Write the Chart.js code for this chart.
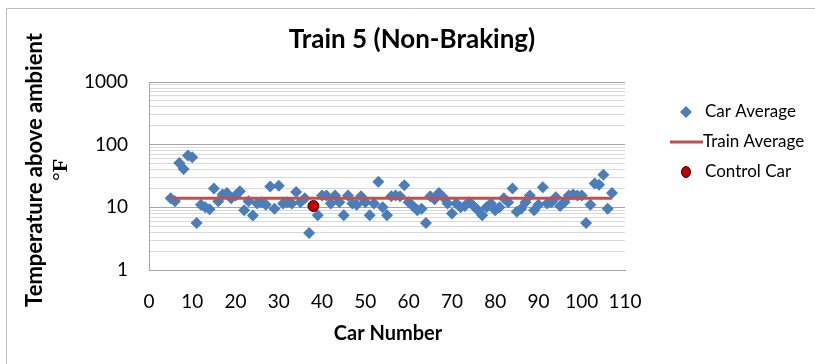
<!DOCTYPE html>
<html>
<head>
<meta charset="utf-8">
<script src="https://cdn.jsdelivr.net/npm/chart.js@4/dist/chart.umd.min.js"></script>
<style>
  html, body { margin: 0; padding: 0; background: #fff; }
  #wrap { width: 815px; height: 364px; position: relative; }
</style>
</head>
<body>
<div id="wrap"><canvas id="chart"></canvas></div>
<script>
// ── Data ──────────────────────────────────────────────────────────────────

const CAR_NUMBERS = [];
for (let n = 5; n <= 107; n++) CAR_NUMBERS.push(n);

// Car average temperature above ambient (°F), cars 5..107 (38 is the control car)
const CAR_AVERAGE = [
  14, 12.5, 51, 41, 67, 63, 5.6, 11, 10, 9.3,          // 5-14
  20, 12.5, 16, 17, 14, 15.5, 18, 9, 12.5, 7.4,        // 15-24
  11.5, 12, 11, 21.5, 9.5, 22, 11.5, 12, 11.5, 17.5,   // 25-34
  12, 14, 3.9, null, 7.5, 15.5, 15.5, 11.5, 15.5, 12,  // 35-44
  7.5, 15.5, 11.5, 11, 15, 12, 7.5, 11.5, 25.5, 10,    // 45-54
  7.5, 15, 15.5, 15, 22.5, 12, 10.5, 9, 9.5, 5.6,      // 55-64
  15, 13.5, 17, 14.5, 11.5, 8, 11.5, 10, 10.5, 12,     // 65-74
  10.5, 9, 7.5, 10, 11.5, 9, 10, 14, 12, 20,           // 75-84
  8.5, 9.5, 12, 15.5, 9, 11, 21, 11.5, 12, 14.5,       // 85-94
  10.5, 12, 15.5, 16, 15.5, 15.5, 5.6, 11, 24, 23,     // 95-104
  33, 9.5, 17                                          // 105-107
];

const TRAIN_AVERAGE = 14;
const CONTROL_CAR = 38;
const CONTROL_VALUE = 10.5;

const X_TICKS = [0, 10, 20, 30, 40, 50, 60, 70, 80, 90, 100, 110];
const Y_DECADES = [1, 10, 100, 1000];

// ── Colours / fonts ───────────────────────────────────────────────────────

const BLUE  = '#4a7ebb';
const RED   = '#c0504d';
const DARKRED = '#c00000';
const FONT  = 'Lato, "Open Sans", sans-serif';

const carPoints = CAR_NUMBERS
  .map((n, i) => ({ x: n, y: CAR_AVERAGE[i] }))
  .filter(p => p.y !== null);
const trainLine = [
  { x: CAR_NUMBERS[0], y: TRAIN_AVERAGE },
  { x: CAR_NUMBERS[CAR_NUMBERS.length - 1], y: TRAIN_AVERAGE },
];

// gridline values 1..9 per decade
const yGrid = [];
Y_DECADES.forEach(d => {
  for (let k = 1; k <= 9; k++) if (d * k <= 1000) yGrid.push(d * k);
});

// ── Decorations: title, y title, x title, legend, outer frame ────────────

const decorations = {
  id: 'decorations',
  afterDraw(chart) {
    const ctx = chart.ctx;
    ctx.save();

    // outer frame (left + top)
    ctx.strokeStyle = '#bfbfbf';
    ctx.lineWidth = 1;
    ctx.beginPath();
    ctx.moveTo(6.5, 364);
    ctx.lineTo(6.5, 8.5);
    ctx.lineTo(815, 8.5);
    ctx.stroke();

    ctx.fillStyle = '#000';
    ctx.textBaseline = 'middle';

    // main title
    ctx.textAlign = 'center';
    ctx.font = `bold 26px ${FONT}`;
    ctx.fillText('Train 5 (Non-Braking)', 412, 40);

    // x title
    ctx.font = `bold 20px ${FONT}`;
    ctx.fillText('Car Number', 388, 334);

    // y title (two lines, second in serif)
    ctx.save();
    ctx.translate(35, 170);
    ctx.rotate(-Math.PI / 2);
    ctx.font = `bold 22px ${FONT}`;
    ctx.fillText('Temperature above ambient', 0, 0);
    ctx.font = 'bold 22px "Liberation Serif", "DejaVu Serif", serif';
    ctx.fillText('°F', 0, 26);
    ctx.restore();

    // legend
    ctx.textAlign = 'left';
    ctx.font = `17px ${FONT}`;
    const lx = 686, tx = 705;
    const rows = [112, 142, 172];

    ctx.fillStyle = BLUE;
    ctx.beginPath();
    ctx.moveTo(lx - 6, rows[0]);
    ctx.lineTo(lx, rows[0] - 6);
    ctx.lineTo(lx + 6, rows[0]);
    ctx.lineTo(lx, rows[0] + 6);
    ctx.closePath();
    ctx.fill();

    ctx.strokeStyle = RED;
    ctx.lineWidth = 3;
    ctx.beginPath();
    ctx.moveTo(670, rows[1]);
    ctx.lineTo(703, rows[1]);
    ctx.stroke();

    ctx.fillStyle = DARKRED;
    ctx.strokeStyle = '#3a0000';
    ctx.lineWidth = 1;
    ctx.beginPath();
    ctx.ellipse(lx, rows[2], 4.5, 5.5, 0, 0, Math.PI * 2);
    ctx.fill();
    ctx.stroke();

    ctx.fillStyle = '#000';
    ctx.fillText('Car Average', tx, rows[0]);
    ctx.fillText('Train Average', tx - 2, rows[1]);
    ctx.fillText('Control Car', tx, rows[2]);

    ctx.restore();
  },
};

// ── Chart ─────────────────────────────────────────────────────────────────

new Chart(document.getElementById('chart'), {
  type: 'scatter',
  data: {
    datasets: [
      {
        label: 'Car Average',
        data: carPoints,
        pointStyle: 'rectRot',
        pointRadius: 6,
        pointBackgroundColor: BLUE,
        pointBorderWidth: 0,
        order: 3,
      },
      {
        label: 'Train Average',
        type: 'line',
        data: trainLine,
        borderColor: RED,
        borderWidth: 3,
        pointRadius: 0,
        showLine: true,
        order: 2,
      },
      {
        label: 'Control Car',
        data: [{ x: CONTROL_CAR, y: CONTROL_VALUE }],
        pointStyle: 'circle',
        pointRadius: 5.5,
        pointBackgroundColor: DARKRED,
        pointBorderColor: '#3a0000',
        pointBorderWidth: 1,
        order: 1,
      },
    ],
  },
  options: {
    responsive: true,
    maintainAspectRatio: false,
    animation: false,
    layout: { padding: { top: 82, right: 190, bottom: 0, left: 0 } },
    plugins: {
      legend: { display: false },
      title: { display: false },
      tooltip: { enabled: false },
    },
    scales: {
      x: {
        type: 'linear',
        min: 0,
        max: 110,
        afterFit: s => { s.height = 94; },
        afterBuildTicks: s => { s.ticks = X_TICKS.map(v => ({ value: v })); },
        ticks: {
          color: '#000',
          padding: 20,
          maxRotation: 0,
          font: { family: FONT, size: 19 },
        },
        grid: { display: false, drawTicks: false },
        border: { color: '#a6a6a6', width: 1 },
      },
      y: {
        type: 'logarithmic',
        min: 1,
        max: 1000,
        afterFit: s => { s.width = 149; },
        afterBuildTicks: s => { s.ticks = yGrid.map(v => ({ value: v })); },
        ticks: {
          color: '#000',
          padding: 21,
          autoSkip: false,
          font: { family: FONT, size: 19 },
          callback: v => Y_DECADES.includes(v) ? String(v) : '',
        },
        grid: {
          drawTicks: false,
          color: c => Y_DECADES.includes(c.tick && c.tick.value) ? '#a6a6a6' : '#d9d9d9',
          lineWidth: 1,
        },
        border: { color: '#a6a6a6', width: 1 },
      },
    },
  },
  plugins: [decorations],
});
</script>
</body>
</html>
